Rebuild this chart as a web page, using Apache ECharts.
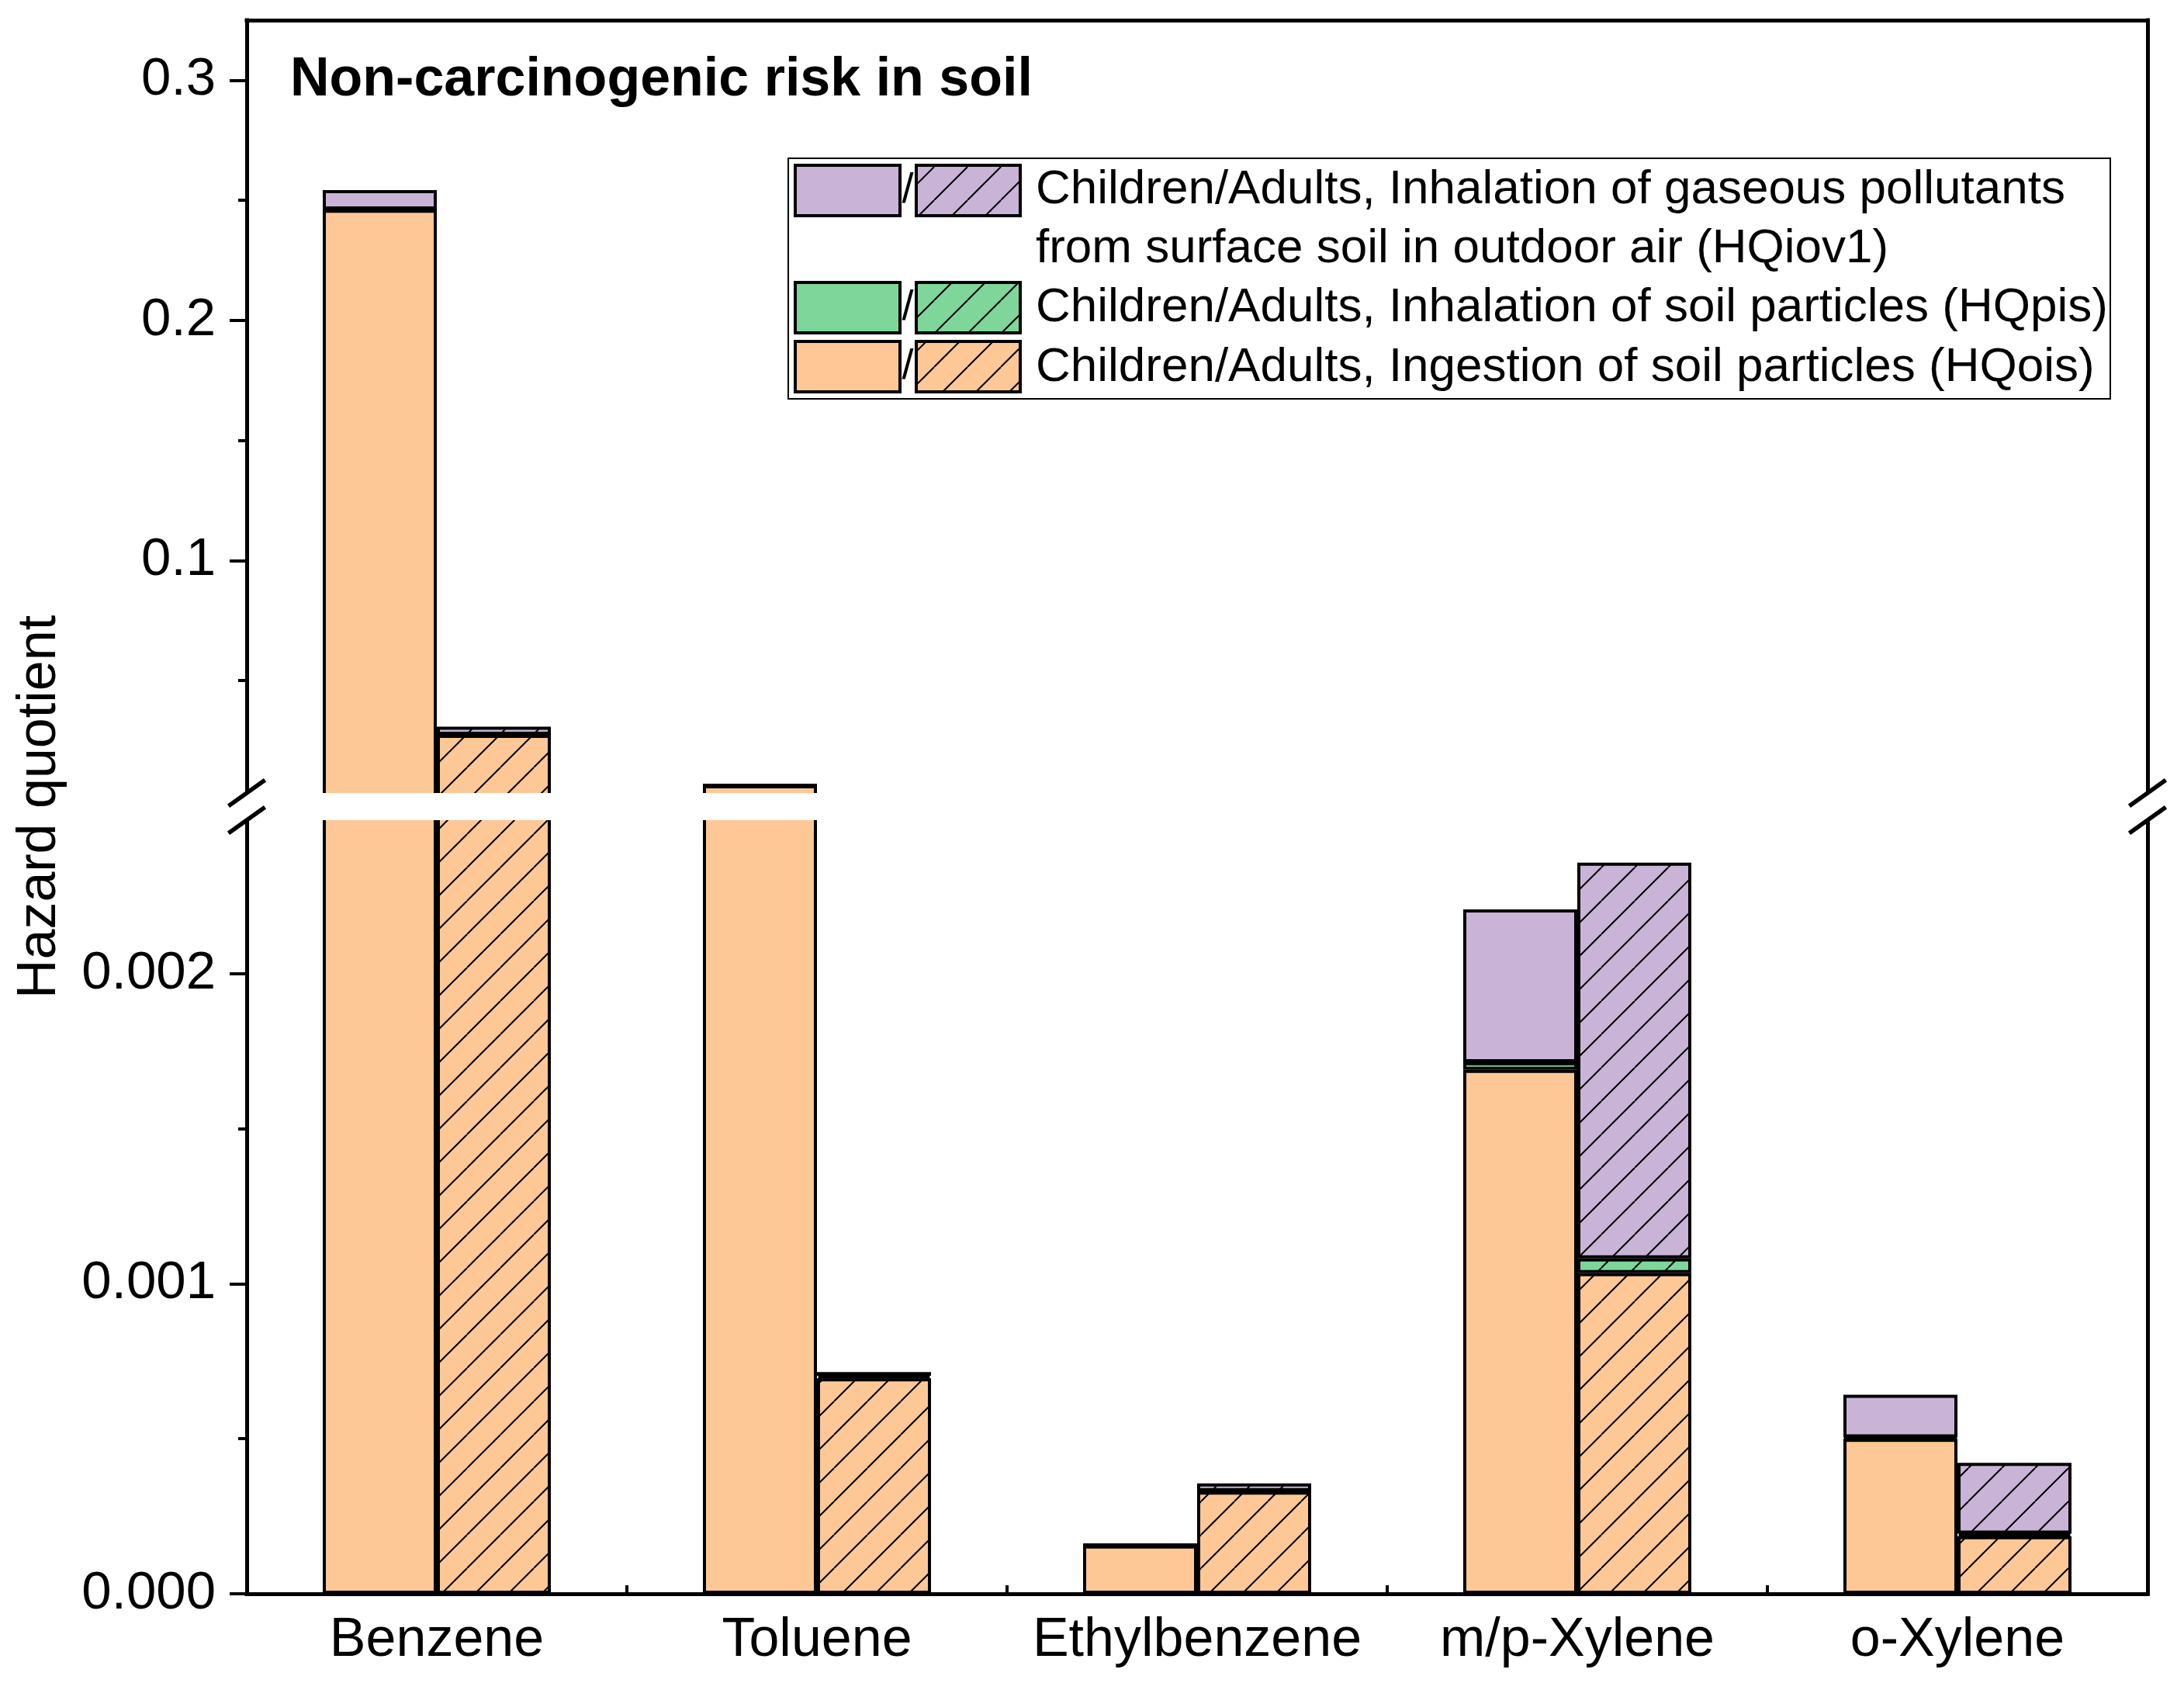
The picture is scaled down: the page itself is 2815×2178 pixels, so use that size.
<!DOCTYPE html>
<html>
<head>
<meta charset="utf-8">
<script src="https://cdn.jsdelivr.net/npm/echarts@6/dist/echarts.min.js"></script>
<style>
html,body{margin:0;padding:0;background:#fff;}
#chart{width:2815px;height:2178px;}
</style>
</head>
<body>
<div id="chart"></div>
<script>
// ---------- data ----------
const categories = ['Benzene', 'Toluene', 'Ethylbenzene', 'm/p-Xylene', 'o-Xylene'];

// Children (solid bars)
const childHQois  = [0.2461, 0.0064,   0.000156, 0.00169,  0.000500];
const childHQpis  = [0.00002, 0.000002, 0.000001, 0.000024, 0.000004];
const childHQiov1 = [0.0081, 0.000002, 0.000001, 0.000493, 0.000138];

// Adults (hatched bars)
const adultHQois  = [0.0274, 0.000695, 0.00033,  0.001034, 0.000186];
const adultHQpis  = [0.00001, 0.000008, 0.000001, 0.000048, 0.000008];
const adultHQiov1 = [0.0034, 0.000012, 0.000025, 0.001276, 0.000228];

const upperTicks = [0.1, 0.2, 0.3];
const upperMinorTicks = [0.05, 0.15, 0.25];
const lowerTicks = [0, 0.001, 0.002];
const lowerMinorTicks = [0.0005, 0.0015];

const legendLines = [
  'Children/Adults, Inhalation of gaseous pollutants',
  'from surface soil in outdoor air (HQiov1)',
  'Children/Adults, Inhalation of soil particles (HQpis)',
  'Children/Adults, Ingestion of soil particles (HQois)'
];
const titleText = 'Non-carcinogenic risk in soil';
const yName = 'Hazard quotient';

// ---------- styles ----------
const FONT = '"Liberation Sans", Arial, sans-serif';
const C_ORANGE = '#FDC896';
const C_GREEN = '#7FD69A';
const C_PURPLE = '#C9B4D8';

function hatch(bg) {
  const T = 43;
  const c = document.createElement('canvas');
  c.width = T; c.height = T;
  const g = c.getContext('2d');
  g.fillStyle = bg; g.fillRect(0, 0, T, T);
  g.strokeStyle = '#000'; g.lineWidth = 2;
  for (let k = -1; k <= 1; k++) {
    g.beginPath(); g.moveTo(k * T, T); g.lineTo(k * T + T, 0); g.stroke();
  }
  return { image: c, repeat: 'repeat' };
}
const H_ORANGE = hatch(C_ORANGE), H_GREEN = hatch(C_GREEN), H_PURPLE = hatch(C_PURPLE);

// layout (pixels)
const L = 318, R = 2768, TOP = 26, BOT = 2054;
const UP_BOTTOM = 1024, LOW_TOP = 1055;
const GAP_Y1 = 1022, GAP_Y2 = 1057;

const axisLineStyle = { color: '#000', width: 5, cap: 'square' };

function yAxes(grid, min, max, ticks, minor, digits) {
  return [
    { gridIndex: grid, type: 'value', min: min, max: max, position: 'left',
      axisLine: { show: true, onZero: false, lineStyle: axisLineStyle },
      axisTick: { show: true, customValues: ticks, length: 22, lineStyle: { color: '#000', width: 4 } },
      axisLabel: { show: true, customValues: ticks, formatter: v => Number(v).toFixed(digits),
                   fontSize: 69, fontFamily: FONT, color: '#000', margin: 40 },
      splitLine: { show: false } },
    { gridIndex: grid, type: 'value', min: min, max: max, position: 'left',
      axisLine: { show: false },
      axisTick: { show: true, customValues: minor, length: 11, lineStyle: { color: '#000', width: 4 } },
      axisLabel: { show: false }, splitLine: { show: false } },
    { gridIndex: grid, type: 'value', min: min, max: max, position: 'right',
      axisLine: { show: true, onZero: false, lineStyle: axisLineStyle },
      axisTick: { show: false }, axisLabel: { show: false }, splitLine: { show: false } }
  ];
}

function bar(name, data, color, stack, xi, yi) {
  return {
    name: name, type: 'bar', data: data, stack: stack,
    xAxisIndex: xi, yAxisIndex: yi,
    barWidth: '30%', barGap: '0%', clip: true,
    itemStyle: { color: color, borderColor: '#000', borderWidth: 4 },
    emphasis: { disabled: true }, silent: true
  };
}

const series = [];
[[0, 0, 'U'], [2, 3, 'L']].forEach(([xi, yi, tag]) => {
  series.push(bar('Children HQois', childHQois, C_ORANGE, 'c' + tag, xi, yi));
  series.push(bar('Children HQpis', childHQpis, C_GREEN, 'c' + tag, xi, yi));
  series.push(bar('Children HQiov1', childHQiov1, C_PURPLE, 'c' + tag, xi, yi));
  series.push(bar('Adults HQois', adultHQois, H_ORANGE, 'a' + tag, xi, yi));
  series.push(bar('Adults HQpis', adultHQpis, H_GREEN, 'a' + tag, xi, yi));
  series.push(bar('Adults HQiov1', adultHQiov1, H_PURPLE, 'a' + tag, xi, yi));
});

// ---------- graphics (legend, title, break marks) ----------
const graphic = [];
// white gap band for axis break
graphic.push({ type: 'rect', z: 100, silent: true,
  shape: { x: 280, y: GAP_Y1, width: 2530, height: GAP_Y2 - GAP_Y1 },
  style: { fill: '#fff' } });
// break slashes
[L, R].forEach(x => {
  [GAP_Y1, GAP_Y2].forEach(y => {
    graphic.push({ type: 'line', z: 101, silent: true,
      shape: { x1: x - 23.5, y1: y + 16.7, x2: x + 23.5, y2: y - 16.7 },
      style: { stroke: '#000', lineWidth: 5.5 } });
  });
});
// title
graphic.push({ type: 'text', z: 101, x: 374, y: 104, silent: true,
  style: { text: titleText, font: 'bold 70px ' + FONT, fill: '#000',
           align: 'left', verticalAlign: 'middle', textAlign: 'left', textVerticalAlign: 'middle' } });
// y-axis name
graphic.push({ type: 'text', z: 101, x: 52, y: 1040, rotation: Math.PI / 2, silent: true,
  style: { text: yName, font: '70px ' + FONT, fill: '#000',
           align: 'center', verticalAlign: 'middle', textAlign: 'center', textVerticalAlign: 'middle' } });
// legend box
graphic.push({ type: 'rect', z: 101, silent: true,
  shape: { x: 1016, y: 204, width: 1704, height: 310 },
  style: { fill: '#fff', stroke: '#000', lineWidth: 2 } });
const legendRows = [
  { y: 213, solid: C_PURPLE, hatched: H_PURPLE },
  { y: 364, solid: C_GREEN, hatched: H_GREEN },
  { y: 440, solid: C_ORANGE, hatched: H_ORANGE }
];
legendRows.forEach(r => {
  graphic.push({ type: 'rect', z: 102, silent: true,
    shape: { x: 1025, y: r.y, width: 135, height: 65 },
    style: { fill: r.solid, stroke: '#000', lineWidth: 4 } });
  graphic.push({ type: 'rect', z: 102, silent: true,
    shape: { x: 1181, y: r.y, width: 134, height: 65 },
    style: { fill: r.hatched, stroke: '#000', lineWidth: 4 } });
  graphic.push({ type: 'text', z: 102, x: 1170, y: r.y + 33, silent: true,
    style: { text: '/', font: '54px ' + FONT, fill: '#000',
             align: 'center', verticalAlign: 'middle', textAlign: 'center', textVerticalAlign: 'middle' } });
});
const legendTextY = [245, 321, 397, 474];
legendLines.forEach((t, i) => {
  graphic.push({ type: 'text', z: 102, x: 1335, y: legendTextY[i], silent: true,
    style: { text: t, font: '62px ' + FONT, fill: '#000',
             align: 'left', verticalAlign: 'middle', textAlign: 'left', textVerticalAlign: 'middle' } });
});

const option = {
  animation: false,
  backgroundColor: '#fff',
  grid: [
    { left: L, right: 2815 - R, top: TOP, bottom: 2178 - UP_BOTTOM, containLabel: false, outerBoundsMode: 'none' },
    { left: L, right: 2815 - R, top: LOW_TOP, bottom: 2178 - BOT, containLabel: false, outerBoundsMode: 'none' }
  ],
  xAxis: [
    { gridIndex: 0, type: 'category', data: categories, position: 'bottom',
      axisLine: { show: false, onZero: false }, axisTick: { show: false }, axisLabel: { show: false }, splitLine: { show: false } },
    { gridIndex: 0, type: 'category', data: categories, position: 'top',
      axisLine: { show: true, onZero: false, lineStyle: axisLineStyle }, axisTick: { show: false }, axisLabel: { show: false }, splitLine: { show: false } },
    { gridIndex: 1, type: 'category', data: categories, position: 'bottom',
      axisLine: { show: true, onZero: false, lineStyle: axisLineStyle },
      axisTick: { show: true, inside: true, length: 11, lineStyle: { color: '#000', width: 4 } },
      axisLabel: { show: true, interval: 0, fontSize: 70, fontFamily: FONT, color: '#000', margin: 26 },
      splitLine: { show: false } }
  ],
  yAxis: [].concat(
    yAxes(0, 0.0025, 0.325, upperTicks, upperMinorTicks, 1),
    yAxes(1, 0, 0.0025, lowerTicks, lowerMinorTicks, 3)
  ),
  series: series,
  graphic: graphic
};

const chart = echarts.init(document.getElementById('chart'), null, { renderer: 'canvas' });
chart.setOption(option);
</script>
</body>
</html>
